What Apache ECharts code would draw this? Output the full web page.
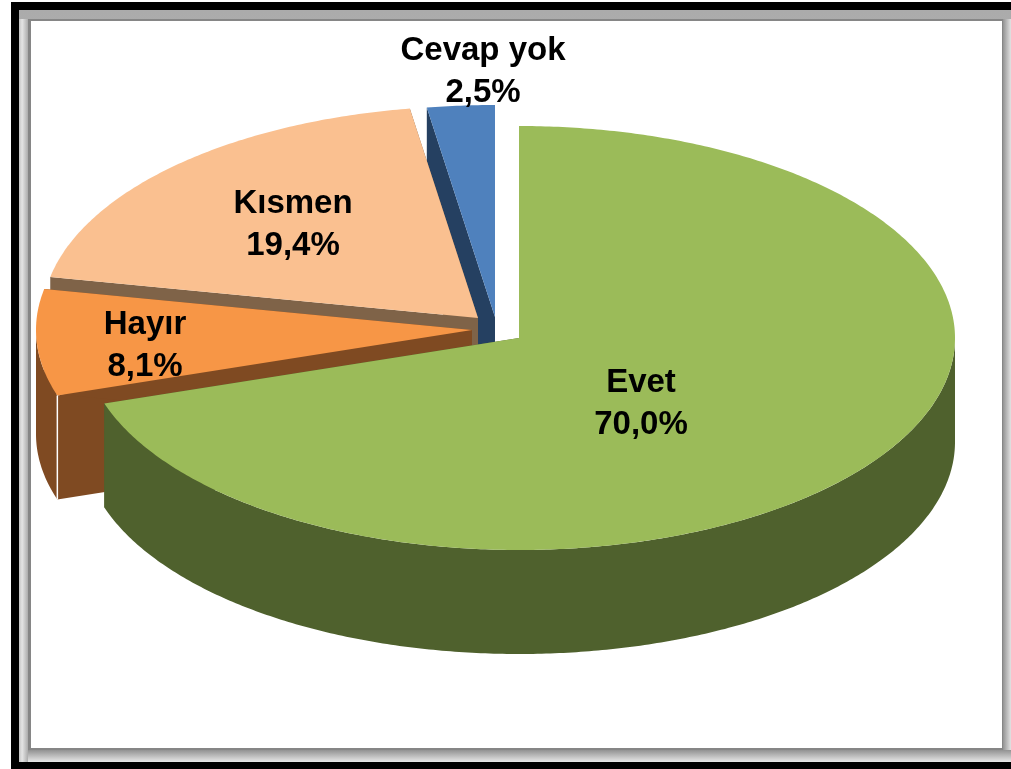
<!DOCTYPE html>
<html>
<head>
<meta charset="utf-8">
<style>html,body{margin:0;padding:0;background:#fff}#c{width:1011px;height:769px}</style>
<script src="https://cdn.jsdelivr.net/npm/echarts@6/dist/echarts.min.js"></script>
</head>
<body>
<div id="c"></div>
<script>
var categories = ["Evet", "Hayır", "Kısmen", "Cevap yok"];
var values = [70.0, 8.1, 19.4, 2.5];
var topColors = ["#9BBB59", "#F79646", "#FAC090", "#4F81BD"];
var sideColors = ["#4F612D", "#7F4A22", "#7F6348", "#254061"];
var apexX = [519, 472, 478, 495];
var apexY = [338, 330, 318, 317];
var labelX = [641, 145, 293, 483];
var labelY = [403.5, 345.5, 225, 72];
var drawOrder = [3, 2, 1, 0];
var RX = 436, RY = 212, DEPTH = 104;

var total = values.reduce(function (a, b) { return a + b; }, 0);
var starts = [], acc = 0;
values.forEach(function (v) { starts.push(acc / total * Math.PI * 2); acc += v; });

function rimPoint(cx, cy, a) {
  return [cx + RX * Math.sin(a), cy - RY * Math.cos(a)];
}
function arcPoints(cx, cy, a0, a1, dy) {
  var n = Math.max(2, Math.ceil((a1 - a0) / 0.01)), pts = [];
  for (var k = 0; k <= n; k++) {
    var p = rimPoint(cx, cy, a0 + (a1 - a0) * k / n);
    pts.push([p[0], p[1] + dy]);
  }
  return pts;
}
function poly(points, fill, z2) {
  return { type: 'polygon', z2: z2, shape: { points: points }, style: { fill: fill } };
}
function renderSlice(params, api) {
  var i = api.value(0), v = api.value(1);
  var a0 = starts[i], a1 = a0 + v / total * Math.PI * 2;
  var cx = apexX[i], cy = apexY[i];
  var top = arcPoints(cx, cy, a0, a1, 0);
  var first = top[0], last = top[top.length - 1];
  var kids = [];
  function radial(p) {
    return [[cx, cy], p, [p[0], p[1] + DEPTH], [cx, cy + DEPTH]];
  }
  kids.push(poly(radial(first), sideColors[i], 1));
  kids.push(poly(radial(last), sideColors[i], 1));
  // outer wall: only the front half of the rim (90 to 270 degrees) faces the viewer
  var w0 = Math.max(a0, Math.PI / 2), w1 = Math.min(a1, Math.PI * 1.5);
  if (w1 > w0) {
    kids.push(poly(arcPoints(cx, cy, w0, w1, 0).concat(arcPoints(cx, cy, w0, w1, DEPTH).reverse()), sideColors[i], 2));
  }
  kids.push(poly([[cx, cy]].concat(top), topColors[i], 3));
  if (categories[i] === "Hayır") {
    kids.push({ type: 'line', z2: 4,
      shape: { x1: first[0], y1: first[1], x2: first[0], y2: first[1] + DEPTH },
      style: { stroke: '#ffffff', lineWidth: 1.5 } });
  }
  return { type: 'group', children: kids };
}
function renderLabel(params, api) {
  var i = api.value(0);
  return { type: 'text', x: labelX[i], y: labelY[i],
    style: {
      text: categories[i] + "\n" + api.value(1).toFixed(1).replace('.', ',') + "%",
      fill: '#000', align: 'center', verticalAlign: 'middle',
      font: 'bold 33px "Liberation Sans", Arial, sans-serif', lineHeight: 42
    } };
}
function grad(x0, y0, x1, y1, c0, c1, mid) {
  var stops = [{ offset: 0, color: c0 }];
  if (mid) stops.push({ offset: 0.35, color: mid });
  stops.push({ offset: 1, color: c1 });
  return { type: 'linear', x: x0, y: y0, x2: x1, y2: y1, colorStops: stops };
}
function rect(x, y, w, h, fill) {
  return { type: 'rect', silent: true, z: -10, shape: { x: x, y: y, width: w, height: h }, style: { fill: fill } };
}
var frame = [
  rect(11, 2, 1000, 767, '#000000'),
  rect(19, 10, 992, 752, grad(0, 0, 0, 1, '#ABABAB', '#DCDCDC')),
  rect(19, 19, 9, 743, grad(0, 0, 1, 0, '#C4C4C4', '#ABABAB', '#E4E4E4')),
  rect(1003, 19, 8, 743, grad(0, 0, 1, 0, '#939393', '#E2E2E2')),
  rect(28, 750, 983, 12, grad(0, 0, 0, 1, '#929292', '#E8E8E8')),
  rect(28, 19, 975, 731, '#868686'),
  rect(31, 21, 971, 727, '#FFFFFF')
];
var chart = echarts.init(document.getElementById('c'), null, { renderer: 'canvas' });
chart.setOption({
  animation: false,
  backgroundColor: '#ffffff',
  graphic: { elements: frame },
  series: [
    { type: 'custom', coordinateSystem: 'none', z: 2, silent: true, renderItem: renderSlice,
      data: drawOrder.map(function (i) { return [i, values[i]]; }) },
    { type: 'custom', coordinateSystem: 'none', z: 3, silent: true, renderItem: renderLabel,
      data: drawOrder.map(function (i) { return [i, values[i]]; }) }
  ]
});
</script>
</body>
</html>
